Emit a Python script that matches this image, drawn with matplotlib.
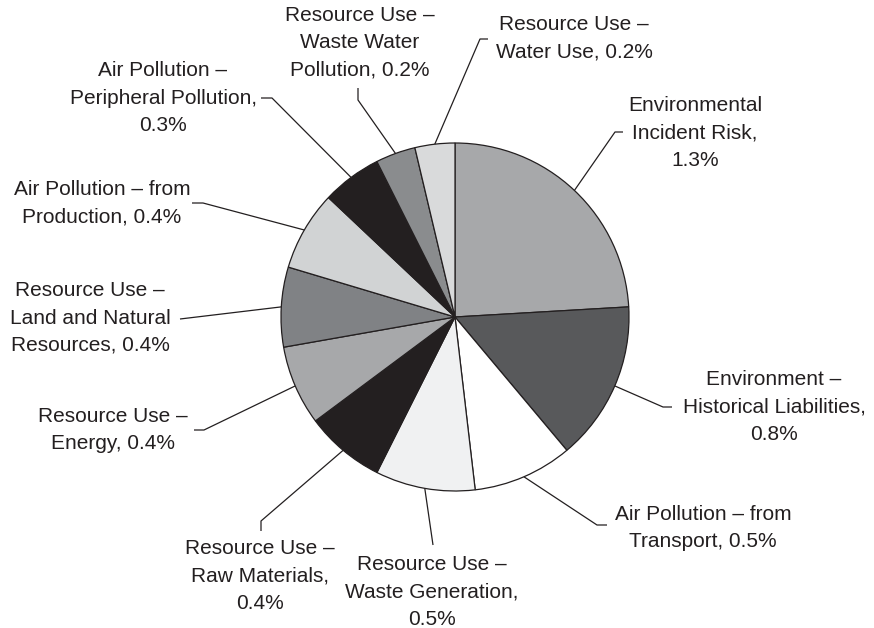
import numpy as np
import matplotlib
matplotlib.use("Agg")
import matplotlib.pyplot as plt

#-----------------------------#
#            Data
#-----------------------------#

labels = [
    "Environmental\nIncident Risk,\n1.3%",
    "Environment –\nHistorical Liabilities,\n0.8%",
    "Air Pollution – from\nTransport, 0.5%",
    "Resource Use –\nWaste Generation,\n0.5%",
    "Resource Use –\nRaw Materials,\n0.4%",
    "Resource Use –\nEnergy, 0.4%",
    "Resource Use –\nLand and Natural\nResources, 0.4%",
    "Air Pollution – from\nProduction, 0.4%",
    "Air Pollution –\nPeripheral Pollution,\n0.3%",
    "Resource Use –\nWaste Water\nPollution, 0.2%",
    "Resource Use –\nWater Use, 0.2%",
]
values = [1.3, 0.8, 0.5, 0.5, 0.4, 0.4, 0.4, 0.4, 0.3, 0.2, 0.2]
colors = ["#a7a8aa", "#58595b", "#ffffff", "#f0f1f2", "#231f20", "#a7a8aa",
          "#808285", "#d1d3d4", "#231f20", "#8a8c8e", "#d9dadb"]

# label layout in pixels: (elbow, line end, text centre); elbow None = straight line
label_layout = [
    ((615, 132), (623, 132), (695, 133)),
    ((663, 407), (672, 407), (774, 407)),
    ((597, 525), (607, 525), (703, 528)),
    (None, (433, 545), (432, 592)),
    ((261, 521), (261, 531), (260, 576)),
    ((204, 430), (194, 430), (113, 430)),
    (None, (180, 319), (90, 318)),
    ((203, 203), (192, 203), (102, 203)),
    ((272, 98), (261, 98), (163, 98)),
    ((358, 100), (358, 88), (360, 43)),
    ((480, 39), (488, 39), (574, 38)),
]

W, H = 874, 628
CX, CY, R_PX = 455, 317, 174
INK = "#231f20"


def px(p):
    """Pixel position -> data coords (pie radius = 1)."""
    return (p[0] - CX) / R_PX, (CY - p[1]) / R_PX


#-----------------------------#
#            Plot
#-----------------------------#

plt.rcParams["font.family"] = ["Liberation Sans", "DejaVu Sans"]
fig = plt.figure(figsize=(W / 100, H / 100), dpi=100)
ax = fig.add_axes([0, 0, 1, 1])

wedges, _ = ax.pie(values, colors=colors, startangle=90, counterclock=False,
                   radius=1, wedgeprops=dict(edgecolor=INK, linewidth=0.9))

ax.set_xlim(-CX / R_PX, (W - CX) / R_PX)
ax.set_ylim(-(H - CY) / R_PX, CY / R_PX)
ax.set_aspect("equal")
ax.axis("off")

for w, text, (elbow, end, tpos) in zip(wedges, labels, label_layout):
    mid = np.deg2rad((w.theta1 + w.theta2) / 2)
    pts = [(np.cos(mid), np.sin(mid))]
    if elbow is not None:
        pts.append(px(elbow))
    pts.append(px(end))
    xs, ys = zip(*pts)
    ax.plot(xs, ys, color=INK, lw=0.9, solid_capstyle="butt")
    tx, ty = px(tpos)
    ax.text(tx, ty, text, ha="center", va="center", fontsize=15,
            color=INK, linespacing=1.55)

fig.savefig("out.png", dpi=100)
